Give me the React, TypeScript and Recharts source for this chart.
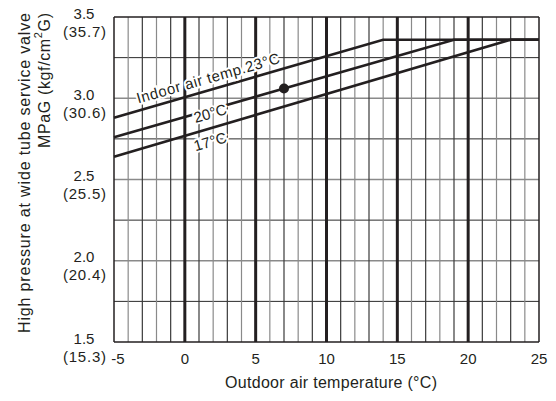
import React from 'react';
import { LineChart, Line, XAxis, YAxis, ReferenceLine, ReferenceDot, Label } from 'recharts';

// outdoor air temperature (°C) -> high pressure (MPaG) for each indoor air temp
const temps23 = [-5, 14, 25];
const press23 = [2.88, 3.36, 3.36];
const temps20 = [-5, 19, 25];
const press20 = [2.76, 3.36, 3.36];
const temps17 = [-5, 23, 25];
const press17 = [2.64, 3.36, 3.36];

const xTicks = [-5, 0, 5, 10, 15, 20, 25];
const yTicks = [1.5, 2.0, 2.5, 3.0, 3.5];
const kgfLabels = ['(15.3)', '(20.4)', '(25.5)', '(30.6)', '(35.7)'];

const minorX = [-4, -3, -2, -1, 1, 2, 3, 4, 6, 7, 8, 9, 11, 12, 13, 14, 16, 17, 18, 19, 21, 22, 23, 24];
const majorX = [0, 5, 10, 15, 20];
const gridYHalf = [2.0, 2.5, 3.0];
const gridYQuarter = [1.75, 2.25, 2.75, 3.25];

const samplePoint = { x: 7, y: 3.06 };

const curveLabels = [
  { text: 'Indoor air temp.23°C', x: 1.63, y: 3.125, len: 148 },
  { text: '20°C', x: 1.78, y: 2.909, len: 0 },
  { text: '17°C', x: 1.78, y: 2.735, len: 0 },
];

const toRows = (xs: number[], ys: number[]) => xs.map((x, i) => ({ x, y: ys[i] }));

const FONT = '"Liberation Sans", Arial, Helvetica, sans-serif';
const INK = '#231f20';

const YTick = (props: any) => {
  const { x, y, payload } = props;
  const idx = yTicks.indexOf(payload.value);
  return (
    <g>
      <text x={x - 22} y={y - 4} textAnchor="middle" dominantBaseline="central" fontSize={15} fontFamily={FONT} fill={INK}>
        {payload.value.toFixed(1)}
      </text>
      <text x={x} y={y + 14} textAnchor="end" dominantBaseline="central" fontSize={15} fontFamily={FONT} fill={INK} textLength={43} lengthAdjust="spacing">
        {kgfLabels[idx]}
      </text>
    </g>
  );
};

const XTick = (props: any) => {
  const { x, y, payload } = props;
  const dx = payload.value === -5 ? 4 : 0;
  return (
    <text x={x + dx} y={y + 8} textAnchor="middle" dominantBaseline="central" fontSize={15} fontFamily={FONT} fill={INK}>
      {payload.value}
    </text>
  );
};

const CurveLabel = (text: string, len: number) => (p: any) => {
  const { cx, cy } = p;
  return (
    <text
      x={cx}
      y={cy}
      transform={`rotate(-16 ${cx} ${cy})`}
      textAnchor="middle"
      dominantBaseline="central"
      fontSize={15}
      fontFamily={FONT}
      fill={INK}
      stroke="#fff"
      strokeWidth={4}
      paintOrder="stroke"
      {...(len ? { textLength: len, lengthAdjust: 'spacing' } : {})}
    >
      {text}
    </text>
  );
};

export default function App() {
  return (
    <div style={{ width: 556, height: 401, background: '#fff' }}>
      <style>{'body{margin:0}'}</style>
      <LineChart width={556} height={401} margin={{ top: 17, right: 17, left: 0, bottom: 0 }}>
        <XAxis
          type="number"
          dataKey="x"
          domain={[-5, 25]}
          ticks={xTicks}
          height={59}
          axisLine={false}
          tickLine={false}
          tick={<XTick />}
          interval={0}
        >
          <Label
            content={() => (
              <text x={331} y={382} textAnchor="middle" dominantBaseline="central" fontSize={16} fontFamily={FONT} fill={INK} textLength={212} lengthAdjust="spacing">
                Outdoor air temperature (°C)
              </text>
            )}
          />
        </XAxis>
        <YAxis
          type="number"
          dataKey="y"
          domain={[1.5, 3.5]}
          ticks={yTicks}
          width={114}
          axisLine={false}
          tickLine={false}
          tick={<YTick />}
          interval={0}
        >
          <Label
            content={() => (
              <g fontSize={16} fontFamily={FONT} fill={INK}>
                <text x={24} y={13} transform="rotate(-90 24 13)" textAnchor="end" dominantBaseline="central" textLength={320} lengthAdjust="spacing">
                  High pressure at wide tube service valve
                </text>
                <text x={44} y={13} transform="rotate(-90 44 13)" textAnchor="end" dominantBaseline="central" textLength={135} lengthAdjust="spacing">
                  MPaG (kgf/cm<tspan baselineShift="super" fontSize={11}>2</tspan>G)
                </text>
              </g>
            )}
          />
        </YAxis>

        {gridYQuarter.map(v => (
          <ReferenceLine key={'yq' + v} y={v} stroke="#2b2b2b" strokeWidth={1} />
        ))}
        {gridYHalf.map(v => (
          <ReferenceLine key={'yh' + v} y={v} stroke="#8a8a8a" strokeWidth={1.5} />
        ))}
        {minorX.map(v => (
          <ReferenceLine key={'xm' + v} x={v} stroke={v % 2 === 0 ? '#8a8a8a' : '#3a3a3a'} strokeWidth={1.2} />
        ))}
        {majorX.map(v => (
          <ReferenceLine key={'xM' + v} x={v} stroke={INK} strokeWidth={3} />
        ))}
        <ReferenceLine x={-5} stroke={INK} strokeWidth={1.5} />
        <ReferenceLine x={25} stroke={INK} strokeWidth={1.5} />
        <ReferenceLine y={1.5} stroke={INK} strokeWidth={1.5} />
        <ReferenceLine y={3.5} stroke={INK} strokeWidth={1.5} />

        <Line data={toRows(temps23, press23)} dataKey="y" type="linear" stroke={INK} strokeWidth={2.6} dot={false} isAnimationActive={false} />
        <Line data={toRows(temps20, press20)} dataKey="y" type="linear" stroke={INK} strokeWidth={2.6} dot={false} isAnimationActive={false} />
        <Line data={toRows(temps17, press17)} dataKey="y" type="linear" stroke={INK} strokeWidth={2.6} dot={false} isAnimationActive={false} />

        {curveLabels.map(l => (
          <ReferenceDot key={l.text} x={l.x} y={l.y} r={0} shape={CurveLabel(l.text, l.len)} />
        ))}
        <ReferenceDot x={samplePoint.x} y={samplePoint.y} r={5} fill={INK} stroke="none" />
      </LineChart>
    </div>
  );
}
